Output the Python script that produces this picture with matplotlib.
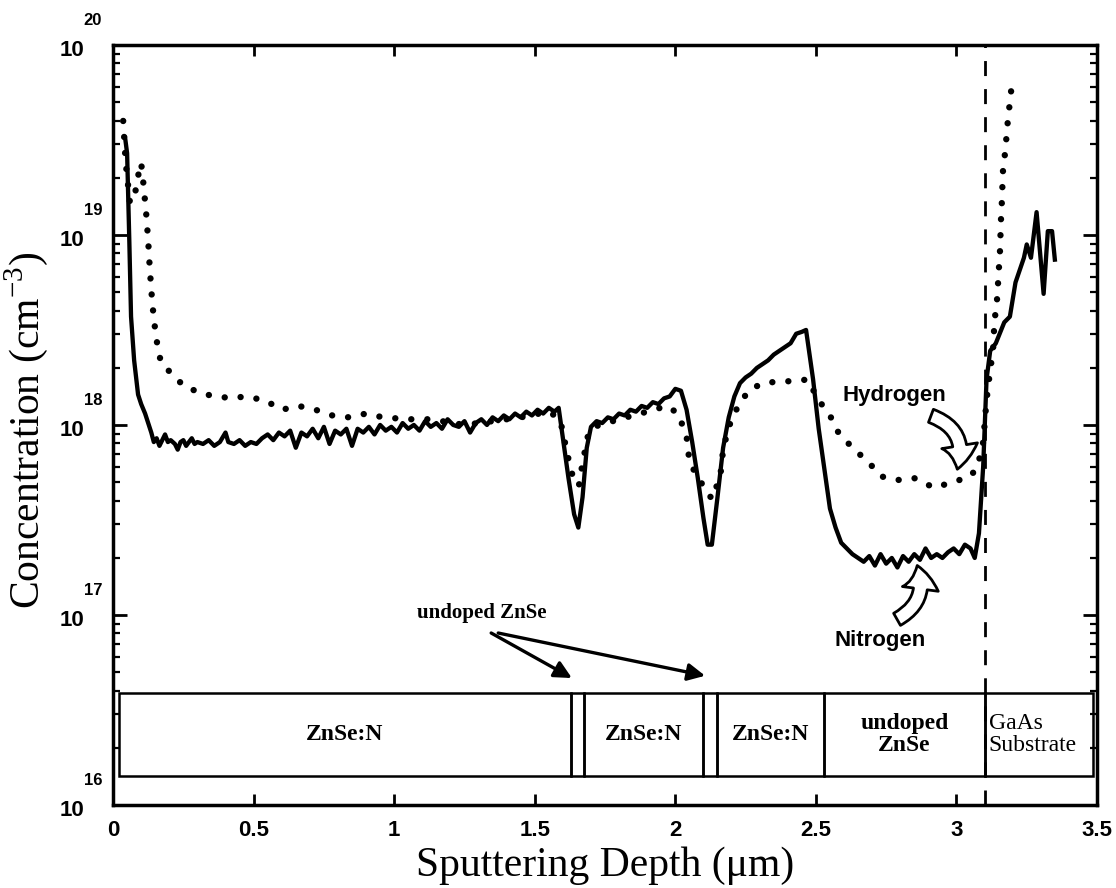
import numpy as np
import matplotlib
matplotlib.use("Agg")
from matplotlib import pyplot as plt
from matplotlib.patches import Rectangle, FancyArrowPatch

SERIF = "Liberation Serif"
SANS = "Liberation Sans"

# nitrogen profile (solid line): depth [um], log10 concentration [cm^-3]
n_depth = [0.043, 0.050, 0.058, 0.064, 0.075, 0.089, 0.100, 0.114, 0.125, 0.136,
           0.145, 0.155, 0.165, 0.175, 0.185, 0.195, 0.205, 0.22, 0.23, 0.24,
           0.25, 0.26, 0.27, 0.28, 0.29, 0.30, 0.32, 0.34, 0.36, 0.38,
           0.40, 0.41, 0.43, 0.45, 0.47, 0.49, 0.51, 0.53, 0.55, 0.57,
           0.59, 0.61, 0.63, 0.65, 0.67, 0.69, 0.71, 0.73, 0.75, 0.77,
           0.79, 0.81, 0.83, 0.85, 0.87, 0.89, 0.91, 0.93, 0.95, 0.97,
           0.99, 1.01, 1.03, 1.05, 1.07, 1.09, 1.11, 1.13, 1.15, 1.17,
           1.19, 1.21, 1.23, 1.25, 1.27, 1.29, 1.31, 1.33, 1.35, 1.37,
           1.39, 1.41, 1.43, 1.45, 1.47, 1.49, 1.51, 1.53, 1.55, 1.57,
           1.585, 1.60, 1.62, 1.64, 1.655, 1.67, 1.685, 1.70, 1.72, 1.74,
           1.76, 1.78, 1.80, 1.82, 1.84, 1.86, 1.88, 1.90, 1.92, 1.94,
           1.96, 1.98, 2.00, 2.02, 2.04, 2.06, 2.08, 2.10, 2.115, 2.13,
           2.15, 2.17, 2.19, 2.21, 2.23, 2.25, 2.27, 2.29, 2.31, 2.33,
           2.35, 2.37, 2.39, 2.41, 2.43, 2.45, 2.465, 2.49, 2.51, 2.53,
           2.55, 2.57, 2.59, 2.61, 2.63, 2.65, 2.67, 2.69, 2.71, 2.73,
           2.75, 2.77, 2.79, 2.81, 2.83, 2.85, 2.87, 2.89, 2.91, 2.93,
           2.95, 2.97, 2.99, 3.01, 3.03, 3.05, 3.065, 3.08, 3.095, 3.107,
           3.12, 3.14, 3.17, 3.19, 3.21, 3.24, 3.25, 3.265, 3.285, 3.31,
           3.325, 3.34, 3.35]
n_log = [19.51, 19.43, 18.96, 18.57, 18.34, 18.16, 18.11, 18.06, 18.01, 17.96,
         17.91, 17.93, 17.89, 17.92, 17.95, 17.91, 17.92, 17.90, 17.87, 17.91,
         17.92, 17.89, 17.91, 17.93, 17.90, 17.91, 17.90, 17.92, 17.89, 17.91,
         17.96, 17.91, 17.90, 17.92, 17.89, 17.91, 17.90, 17.93, 17.95, 17.92,
         17.96, 17.94, 17.97, 17.88, 17.96, 17.94, 17.98, 17.93, 17.99, 17.90,
         17.97, 17.95, 17.98, 17.89, 17.98, 17.96, 17.99, 17.95, 18.00, 17.97,
         17.99, 17.96, 18.01, 17.98, 18.00, 17.97, 18.02, 17.99, 18.01, 17.98,
         18.03, 18.00, 17.99, 18.02, 17.96, 18.01, 18.03, 18.00, 18.04, 18.02,
         18.05, 18.03, 18.06, 18.04, 18.07, 18.05, 18.08, 18.06, 18.09, 18.07,
         18.09, 17.93, 17.72, 17.53, 17.46, 17.62, 17.88, 17.99, 18.02, 18.01,
         18.04, 18.03, 18.06, 18.05, 18.08, 18.07, 18.10, 18.09, 18.12, 18.11,
         18.14, 18.15, 18.19, 18.18, 18.08, 17.91, 17.72, 17.51, 17.37, 17.37,
         17.62, 17.88, 18.04, 18.15, 18.22, 18.25, 18.27, 18.30, 18.32, 18.34,
         18.37, 18.39, 18.41, 18.43, 18.48, 18.49, 18.50, 18.24, 17.98, 17.77,
         17.56, 17.46, 17.38, 17.35, 17.32, 17.30, 17.28, 17.31, 17.26, 17.32,
         17.27, 17.30, 17.25, 17.31, 17.28, 17.32, 17.29, 17.35, 17.30, 17.32,
         17.30, 17.33, 17.35, 17.32, 17.37, 17.35, 17.30, 17.43, 17.78, 18.24,
         18.39, 18.43, 18.54, 18.57, 18.75, 18.88, 18.95, 18.88, 19.12, 18.69,
         19.02, 19.02, 18.87]

# hydrogen profile (dotted line)
h_depth = [0.036, 0.045, 0.060, 0.075, 0.089, 0.100, 0.108, 0.118, 0.125, 0.130,
           0.136, 0.143, 0.153, 0.170, 0.214, 0.256, 0.33, 0.42, 0.47, 0.54,
           0.60, 0.66, 0.72, 0.78, 0.84, 0.90, 0.96, 1.05, 1.13, 1.25,
           1.35, 1.45, 1.55, 1.59, 1.62, 1.64, 1.657, 1.67, 1.69, 1.71,
           1.80, 1.90, 1.97, 2.01, 2.04, 2.05, 2.08, 2.10, 2.13, 2.16,
           2.17, 2.19, 2.22, 2.26, 2.31, 2.38, 2.43, 2.47, 2.51, 2.55,
           2.58, 2.63, 2.69, 2.73, 2.79, 2.85, 2.92, 2.99, 3.05, 3.075,
           3.095, 3.107, 3.12, 3.13, 3.135, 3.145, 3.15, 3.155, 3.158, 3.162,
           3.165, 3.175, 3.18, 3.19, 3.20]
h_log = [19.60, 19.38, 19.17, 19.19, 19.31, 19.38, 19.27, 19.11, 18.97, 18.84,
         18.71, 18.59, 18.46, 18.33, 18.26, 18.20, 18.16, 18.14, 18.15, 18.13,
         18.08, 18.10, 18.08, 18.05, 18.04, 18.06, 18.04, 18.03, 18.03, 18.00,
         18.02, 18.04, 18.07, 18.03, 17.82, 17.70, 17.68, 17.80, 17.95, 17.99,
         18.03, 18.07, 18.10, 18.06, 17.94, 17.81, 17.72, 17.68, 17.61, 17.73,
         17.87, 17.99, 18.09, 18.18, 18.22, 18.23, 18.23, 18.24, 18.13, 18.05,
         17.96, 17.88, 17.80, 17.73, 17.71, 17.72, 17.67, 17.70, 17.73, 17.78,
         17.91, 18.13, 18.29, 18.39, 18.54, 18.67, 18.80, 18.92, 19.07, 19.19,
         19.33, 19.46, 19.56, 19.70, 19.83]

# layer stack drawn along the bottom
layer_edges = [0.02, 1.63, 1.675, 2.10, 2.15, 2.53, 3.10, 3.485]
layer_names = ["ZnSe:N", "", "ZnSe:N", "", "ZnSe:N", "undoped\nZnSe", "GaAs\nSubstrate"]
box_low, box_high = 1.42e16, 3.88e16
interface = 3.10

x_ticks = [0, 0.5, 1, 1.5, 2, 2.5, 3, 3.5]
x_labels = ["0", "0.5", "1", "1.5", "2", "2.5", "3", "3.5"]
y_exps = [16, 17, 18, 19, 20]

fig = plt.figure(figsize=(11.16, 8.88), dpi=100)
ax = fig.add_axes([0.1013, 0.0935, 0.8817, 0.8559])
ax.set_yscale("log")
ax.set_xlim(0, 3.5)
ax.set_ylim(1e16, 1e20)

ax.plot(n_depth, 10 ** np.array(n_log), color="black", lw=3.1,
        solid_joinstyle="round")
ax.plot(h_depth, 10 ** np.array(h_log), color="black", lw=4.6,
        linestyle=(0, (0.01, 2.5)), dash_capstyle="round")
ax.axvline(interface, color="black", lw=2.0, linestyle=(0, (5.4, 4.7)))

# layer boxes
for i, name in enumerate(layer_names):
    x0, x1 = layer_edges[i], layer_edges[i + 1]
    ax.add_patch(Rectangle((x0, box_low), x1 - x0, box_high - box_low,
                           fill=False, ec="black", lw=1.8, zorder=3))
    if not name:
        continue
    ymid = np.sqrt(box_low * box_high)
    if name.startswith("GaAs"):
        ax.text(x0 + 0.015, ymid, name, family=SERIF, fontsize=17,
                ha="left", va="center", linespacing=1.05)
    else:
        ax.text((x0 + x1) / 2, ymid, name, family=SERIF, fontsize=17,
                fontweight="bold", ha="center", va="center", linespacing=1.05)

# undoped ZnSe annotation with two arrows
ax.text(1.31, 10 ** 17.01, "undoped ZnSe", family=SERIF, fontsize=15,
        fontweight="bold", ha="center", va="center")
for start, end in [((1.345, 10 ** 16.905), (1.632, 10 ** 16.668)),
                   ((1.37, 10 ** 16.905), (2.106, 10 ** 16.68))]:
    ax.annotate("", xy=end, xytext=start,
                arrowprops=dict(arrowstyle="-|>", color="black", lw=2.4,
                                mutation_scale=26, shrinkA=0, shrinkB=0))

# species labels with hollow curved arrows
ax.text(2.78, 10 ** 18.153, "Hydrogen", family=SANS, fontsize=16,
        fontweight="bold", ha="center", va="center")
ax.text(2.73, 10 ** 16.863, "Nitrogen", family=SANS, fontsize=16,
        fontweight="bold", ha="center", va="center")
hollow = "simple,head_length=17,head_width=26,tail_width=10"
ax.add_patch(FancyArrowPatch((2.90, 10 ** 18.053), (3.00, 10 ** 17.753),
                             connectionstyle="arc3,rad=-0.5", arrowstyle=hollow,
                             fc="white", ec="black", lw=2.0, zorder=5))
ax.add_patch(FancyArrowPatch((2.78, 10 ** 16.97), (2.857, 10 ** 17.274),
                             connectionstyle="arc3,rad=0.45", arrowstyle=hollow,
                             fc="white", ec="black", lw=2.0, zorder=5))

# axes styling
for sp in ax.spines.values():
    sp.set_linewidth(2.5)
ax.set_xticks(x_ticks)
ax.set_xticklabels(x_labels, family=SANS, fontsize=16, fontweight="bold")
ax.tick_params(axis="x", which="both", direction="in", top=True, length=8,
               width=2, pad=11)
ax.tick_params(axis="y", which="major", direction="in", right=True, length=10,
               width=2)
ax.tick_params(axis="y", which="minor", direction="in", right=True, length=5,
               width=1.6)
ax.set_yticks([10.0 ** e for e in y_exps])
ax.set_yticklabels([])

# y labels drawn as "10" plus a raised exponent
for e in y_exps:
    ax.annotate("10", xy=(0, 10.0 ** e), xycoords=("axes fraction", "data"),
                xytext=(-41, -6), textcoords="offset pixels",
                ha="center", va="center", family=SANS, fontsize=16,
                fontweight="bold")
    ax.annotate(str(e), xy=(0, 10.0 ** e), xycoords=("axes fraction", "data"),
                xytext=(-20, 24), textcoords="offset pixels",
                ha="center", va="center", family=SANS, fontsize=12,
                fontweight="bold")

ax.set_xlabel("Sputtering Depth (\u03bcm)", family=SERIF, fontsize=30)
ax.xaxis.set_label_coords(0.50, -0.054)
ax.set_ylabel("Concentration (cm$^{\\mathregular{-3}}$)", family=SERIF,
              fontsize=30)
ax.yaxis.set_label_coords(-0.064, 0.493)

fig.savefig("out.png", dpi=100)
